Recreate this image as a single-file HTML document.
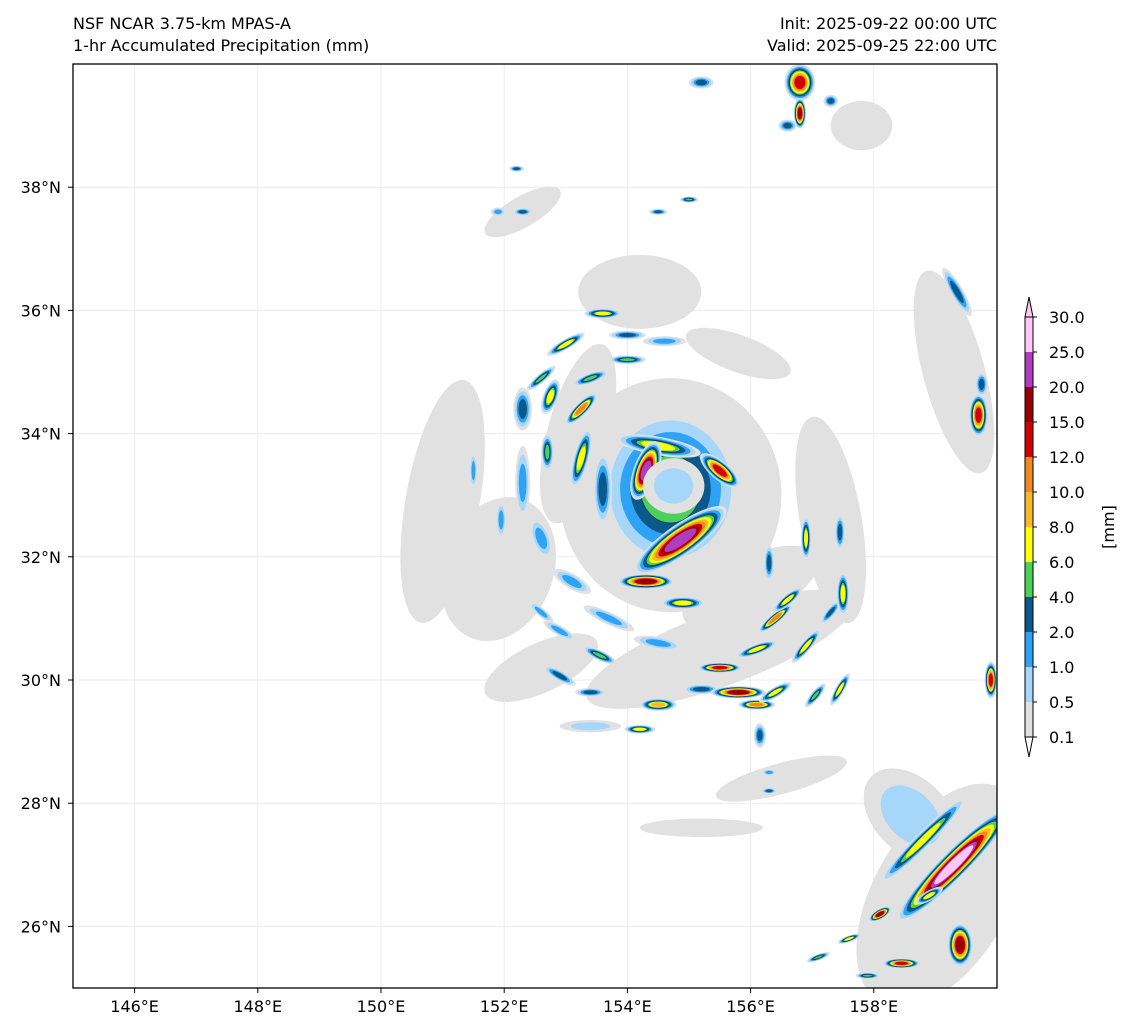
<!DOCTYPE html>
<html><head><meta charset="utf-8">
<style>
body{margin:0;background:#fff;font-family:"DejaVu Sans","Liberation Sans",sans-serif;}
svg text{font-family:"DejaVu Sans","Liberation Sans",sans-serif;font-size:16px;fill:#000;}
</style></head>
<body>
<svg id="chart" width="1133" height="1032" viewBox="0 0 1133 1032" xmlns="http://www.w3.org/2000/svg">
<rect width="1133" height="1032" fill="#fff"/>
<text x="73" y="29">NSF NCAR 3.75-km MPAS-A</text>
<text x="73" y="51">1-hr Accumulated Precipitation (mm)</text>
<text x="997" y="29" text-anchor="end">Init: 2025-09-22 00:00 UTC</text>
<text x="997" y="51" text-anchor="end">Valid: 2025-09-25 22:00 UTC</text>
<defs><clipPath id="pc"><rect x="73" y="64" width="924" height="924"/></clipPath></defs>
<g id="grid"></g>
<g id="field" clip-path="url(#pc)"></g>
<rect x="73" y="64" width="924" height="924" fill="none" stroke="#000" stroke-width="1.3"/>
<g id="axes"></g>
<g id="cbar"></g>
</svg>
<script>
const lonTicks=[146,148,150,152,154,156,158];
const latTicks=[26,28,30,32,34,36,38];
const cbLevels=["0.1","0.5","1.0","2.0","4.0","6.0","8.0","10.0","12.0","15.0","20.0","25.0","30.0"];
const cbColors=["#e1e1e1","#a6d6fa","#2ea3f5","#0b598a","#4dd05a","#ffff00","#f9b92f","#ef8a22","#d20000","#990000","#b03cc0","#ffc6f8"];
// blobs: lon, lat, rx(deg), ry(deg), rotation, max level index
const blobLon=[154.2,151.0,152.3,155.8,157.3,155.5,156.5,155.2,157.8,159.3,154.7,153.2,156.0,151.9,159.1,152.6,158.6,
154.7,154.5,154.3,155.5,154.86,154.3,154.9,154.75,
153.0,153.6,154.0,154.6,154.0,152.6,153.4,153.25,152.75,153.25,153.6,152.3,152.3,152.7,151.5,151.95,152.6,153.1,153.7,152.9,153.55,152.9,152.6,153.4,153.4,154.2,154.5,155.2,154.5,155.5,155.8,156.1,156.1,156.4,156.6,156.4,156.9,157.3,157.05,157.45,157.5,157.45,156.9,156.3,156.15,156.3,156.3,
154.5,155.0,152.3,152.2,151.9,155.2,156.8,156.8,157.3,156.6,159.35,159.7,159.75,159.9,
159.3,158.8,158.1,159.4,158.45,157.6,157.1,157.9,158.9];
const blobLat=[36.3,32.9,37.6,35.3,32.6,30.5,28.4,27.6,39.0,35.0,33.0,34.0,31.5,31.8,26.5,30.2,27.8,
33.1,33.8,33.4,33.4,32.27,31.6,31.25,33.15,
35.45,35.95,35.6,35.5,35.2,34.9,34.9,34.4,34.6,33.6,33.1,34.4,33.2,33.7,33.4,32.6,32.3,31.6,31.0,30.8,30.4,30.07,31.1,29.8,29.25,29.2,29.6,29.85,30.6,30.2,29.8,29.6,30.5,31.0,31.3,29.8,30.55,31.1,29.75,29.85,31.4,32.4,32.3,31.9,29.1,28.5,28.2,
37.6,37.8,37.6,38.3,37.6,39.7,39.7,39.2,39.4,39.0,36.3,34.3,34.8,30.0,
27.0,27.4,26.2,25.7,25.4,25.8,25.5,25.2,26.5];
const blobRx=[1.0,0.6,0.7,0.9,0.5,2.3,1.1,1.0,0.5,0.5,1.8,0.5,1.2,0.9,1.1,1.0,0.6,
1.15,0.7,0.2,0.4,0.9,0.45,0.35,0.5,
0.35,0.3,0.3,0.35,0.3,0.3,0.3,0.35,0.12,0.12,0.15,0.15,0.12,0.1,0.06,0.08,0.15,0.35,0.45,0.3,0.3,0.3,0.25,0.25,0.5,0.25,0.3,0.3,0.4,0.35,0.45,0.3,0.35,0.35,0.3,0.3,0.35,0.25,0.25,0.3,0.1,0.08,0.08,0.08,0.1,0.12,0.12,
0.15,0.15,0.15,0.12,0.12,0.2,0.25,0.1,0.12,0.15,0.1,0.15,0.1,0.1,
1.3,1.0,0.2,0.2,0.3,0.2,0.2,0.2,0.25];
const blobRy=[0.6,2.0,0.25,0.3,1.7,0.6,0.25,0.15,0.4,1.7,1.9,1.5,0.5,1.2,2.0,0.4,0.9,
1.3,0.15,0.5,0.15,0.25,0.12,0.1,0.45,
0.08,0.08,0.07,0.08,0.07,0.07,0.08,0.1,0.3,0.5,0.6,0.35,0.6,0.3,0.3,0.3,0.35,0.12,0.1,0.08,0.08,0.08,0.07,0.07,0.1,0.07,0.1,0.08,0.1,0.08,0.1,0.08,0.08,0.08,0.08,0.08,0.08,0.07,0.07,0.07,0.35,0.3,0.35,0.3,0.2,0.05,0.05,
0.05,0.05,0.06,0.05,0.07,0.1,0.3,0.25,0.1,0.1,0.45,0.35,0.2,0.3,
0.22,0.12,0.08,0.35,0.08,0.05,0.05,0.05,0.08];
const blobRot=[0,10,-30,20,-10,-20,-15,0,0,-15,0,15,-25,20,30,-25,-45,
0,10,20,40,-35,0,0,0,
-30,0,0,0,0,-40,-20,-45,20,15,0,0,0,0,0,0,-20,30,25,30,25,30,40,0,0,0,0,0,10,0,0,0,-20,-40,-40,-30,-50,-50,-50,-60,0,0,0,0,0,0,0,
0,0,0,0,0,0,0,0,0,0,-30,0,0,0,
-45,-45,-30,0,0,-20,-20,0,-30];
const blobLvl=[0,0,0,0,0,0,0,0,0,0,0,0,0,0,0,0,1,
4,5,10,8,10,9,5,1,
5,5,3,2,4,4,4,7,5,5,3,3,2,4,2,2,2,2,2,2,4,3,2,3,1,5,6,3,2,8,9,7,5,7,5,5,5,3,4,5,5,3,5,3,3,2,3,
3,4,3,3,2,3,8,9,3,3,3,8,3,8,
11,5,9,9,8,5,4,4,5];

const NS="http://www.w3.org/2000/svg";
const x0=73,x1=997,y0=64,y1=988,lon0=145,lon1=160,lat0=25,lat1=40;
function xS(lon){return x0+(lon-lon0)/(lon1-lon0)*(x1-x0);}
function yS(lat){return y1-(lat-lat0)/(lat1-lat0)*(y1-y0);}
const pxDeg=(x1-x0)/(lon1-lon0);
function mk(tag,attrs,parent){const e=document.createElementNS(NS,tag);for(const k in attrs)e.setAttribute(k,attrs[k]);parent.appendChild(e);return e;}
const grid=document.getElementById('grid'),axes=document.getElementById('axes'),field=document.getElementById('field'),cbar=document.getElementById('cbar');
lonTicks.forEach(v=>{const x=xS(v);
 const g=mk('line',{x1:x,x2:x,y1:y0,y2:y1,stroke:'#ececec','stroke-width':1},grid);
 
 
 const t=mk('line',{x1:x,x2:x,y1:y1,y2:y1+5,stroke:'#000'},axes);
 
 
 const l=mk('text',{x:x,y:y1+24,'text-anchor':'middle'},axes);l.textContent=v+'°E';
 
 
});
latTicks.forEach(v=>{const y=yS(v);
 const g=mk('line',{x1:x0,x2:x1,y1:y,y2:y,stroke:'#ececec','stroke-width':1},grid);
 
 
 const t=mk('line',{x1:x0-5,x2:x0,y1:y,y2:y,stroke:'#000'},axes);
 
 
 const l=mk('text',{x:x0-12,y:y+6,'text-anchor':'end'},axes);l.textContent=v+'°N';
 
 
});
for(let i=0;i<blobLon.length;i++){
 const cx=xS(blobLon[i]),cy=yS(blobLat[i]),L=blobLvl[i];
 for(let k=0;k<=L;k++){
  const s=1-0.72*k/(L+1);
  const e=mk('ellipse',{cx:cx,cy:cy,rx:blobRx[i]*pxDeg*s,ry:blobRy[i]*pxDeg*s,fill:cbColors[k],
   transform:`rotate(${blobRot[i]} ${cx} ${cy})`},field);
  if(k===4){e.setAttribute('stroke','#0b3f66');e.setAttribute('stroke-width','0.8');}
  
  
 }
}
const cbx=1025,cbw=8,segH=35,cbBottom=737;
cbColors.forEach((c,i)=>{
 const r=mk('rect',{x:cbx,y:cbBottom-(i+1)*segH,width:cbw,height:segH,fill:c},cbar);
 
 
});
const lo=mk('polygon',{points:`${cbx},${cbBottom} ${cbx+cbw},${cbBottom} ${cbx+cbw/2},${cbBottom+20}`,fill:'#fff',stroke:'#000','stroke-width':1},cbar);


const topY=cbBottom-cbColors.length*segH;
const hi=mk('polygon',{points:`${cbx},${topY} ${cbx+cbw},${topY} ${cbx+cbw/2},${topY-20}`,fill:'#ffc6f8',stroke:'#000','stroke-width':1},cbar);


const fr=mk('rect',{x:cbx,y:topY,width:cbw,height:cbColors.length*segH,fill:'none',stroke:'#000','stroke-width':1},cbar);


cbLevels.forEach((v,i)=>{const y=cbBottom-i*segH;
 const t=mk('line',{x1:cbx+cbw,x2:cbx+cbw+4,y1:y,y2:y,stroke:'#000'},cbar);
 
 
 const l=mk('text',{x:cbx+cbw+16,y:y+6},cbar);l.textContent=v;
 
 
});
const u=mk('text',{x:0,y:0,transform:'translate(1114,527) rotate(-90)','text-anchor':'middle'},cbar);u.textContent='[mm]';


</script>
</body></html>
